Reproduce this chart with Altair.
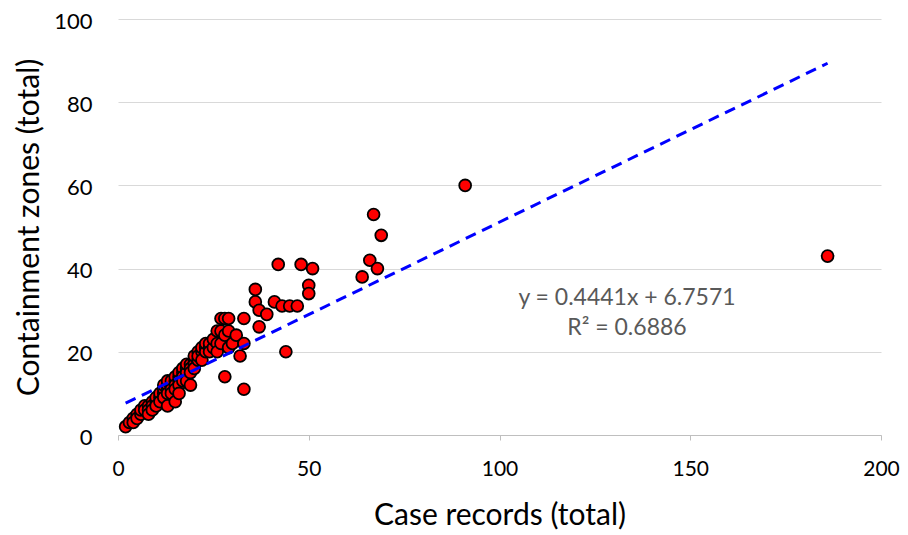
import altair as alt
import pandas as pd

# Case records (x) and containment zones (y)
case_records = [
    2, 3, 4, 4, 5, 5, 6, 6, 7, 7, 8, 8, 8, 9, 9, 9, 10, 10, 10, 11, 11, 11,
    12, 12, 12, 12, 13, 13, 13, 13, 13, 14, 14, 14, 14, 15, 15, 15, 15, 15,
    16, 16, 16, 16, 16, 17, 17, 17, 17, 18, 18, 18, 18, 19, 19, 19, 19,
    20, 20, 20, 20, 21, 21, 21, 22, 22, 22, 23, 23, 23, 24, 24, 24, 25, 25,
    26, 26, 26, 27, 27, 27, 28, 28, 28, 29, 29, 29, 30, 31, 32, 33, 33, 33,
    36, 36, 37, 37, 39, 41, 42, 43, 44, 45, 47, 48, 50, 50, 51,
    64, 66, 67, 68, 69, 91, 186,
]
containment_zones = [
    2, 3, 4, 3, 5, 4, 5, 6, 7, 6, 7, 6, 5, 8, 7, 6, 8, 9, 7, 9, 10, 8,
    10, 11, 9, 12, 11, 12, 10, 13, 7, 12, 13, 11, 10, 13, 14, 12, 11, 8,
    14, 15, 13, 12, 10, 15, 16, 14, 13, 16, 15, 17, 13, 17, 16, 15, 12,
    18, 17, 16, 19, 20, 18, 19, 20, 21, 18, 21, 20, 22, 21, 22, 20, 21, 23,
    22, 25, 20, 25, 28, 22, 28, 14, 24, 25, 28, 21, 22, 24, 19, 22, 11, 28,
    35, 32, 30, 26, 29, 32, 41, 31, 20, 31, 31, 41, 36, 34, 40,
    38, 42, 53, 40, 48, 60, 43,
]

# Linear trendline reported on the chart
slope = 0.4441
intercept = 6.7571
equation_text = "y = 0.4441x + 6.7571"
r2_text = "R² = 0.6886"

x_ticks = [0, 50, 100, 150, 200]
y_ticks = [0, 20, 40, 60, 80, 100]

pts = pd.DataFrame({"x": case_records, "y": containment_zones})
x_min, x_max = min(case_records), max(case_records)
trend = pd.DataFrame({
    "x": [x_min, x_max],
    "y": [slope * x_min + intercept, slope * x_max + intercept],
})

FONT = "Lato"

x_enc = alt.X(
    "x:Q",
    scale=alt.Scale(domain=[0, 200], nice=False),
    axis=alt.Axis(
        values=x_ticks, title="Case records (total)", grid=False,
        domainColor="#bfbfbf", tickColor="#bfbfbf", tickSize=5,
        labelFlush=False, labelOverlap=False,
        labelFontSize=21, labelColor="#000000", labelFont=FONT, labelPadding=18,
        titleFontSize=30, titleFont=FONT, titleColor="#000000",
        titleFontWeight="normal", titlePadding=21,
    ),
)
y_enc = alt.Y(
    "y:Q",
    scale=alt.Scale(domain=[0, 100], nice=False),
    axis=alt.Axis(
        values=y_ticks, title="Containment zones (total)", grid=True,
        gridColor="#d9d9d9", domain=False, ticks=False, tickSize=0,
        labelFlush=False, labelOverlap=False, labelOffset=2,
        labelFontSize=22, labelColor="#000000", labelFont=FONT, labelPadding=26,
        titleFontSize=30, titleFont=FONT, titleColor="#000000",
        titleFontWeight="normal", titlePadding=9,
    ),
)

points = alt.Chart(pts).mark_point(
    shape="circle", filled=True, fill="#ff0000", stroke="#000000",
    strokeWidth=1.8, size=140, opacity=1,
).encode(x=x_enc, y=y_enc)

line = alt.Chart(trend).mark_line(
    color="#0000ff", strokeWidth=3, strokeDash=[11, 7],
).encode(x="x:Q", y="y:Q")

eq1 = alt.Chart(pd.DataFrame({"t": [equation_text]})).mark_text(
    font=FONT, fontSize=23, color="#595959", align="center", baseline="middle",
).encode(x=alt.value(509), y=alt.value(279), text="t:N")

eq2 = alt.Chart(pd.DataFrame({"t": [r2_text]})).mark_text(
    font=FONT, fontSize=23, color="#595959", align="center", baseline="middle",
).encode(x=alt.value(509), y=alt.value(309), text="t:N")

chart = alt.layer(points, line, eq1, eq2).properties(
    width=763, height=416,
    autosize=alt.AutoSizeParams(type="none"),
    padding={"left": 110, "top": 11, "right": 19, "bottom": 100},
).configure_view(stroke=None)

chart.save("out.html", embed_options={"renderer": "svg", "actions": False})
